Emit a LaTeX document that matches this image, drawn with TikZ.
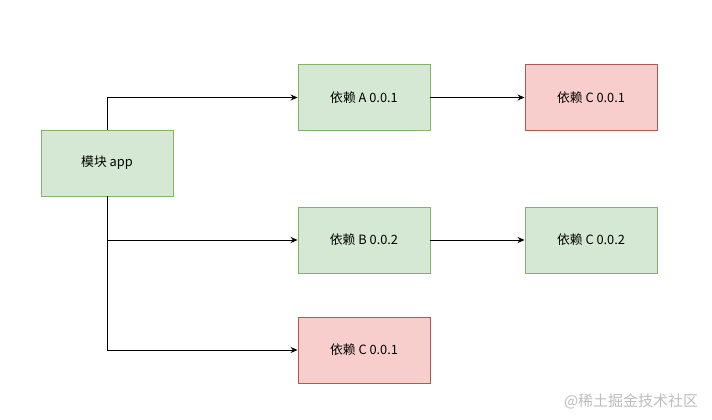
\documentclass[tikz,border=0pt]{standalone}
\usepackage{fontspec}
\setmainfont{Noto Sans CJK SC}
\usetikzlibrary{arrows.meta, positioning}
\definecolor{okfill}{HTML}{D5E8D4}
\definecolor{okline}{HTML}{82B366}
\definecolor{badfill}{HTML}{F8CECC}
\definecolor{badline}{HTML}{B85450}
\definecolor{markgray}{HTML}{BDBDBD}

\begin{document}
\begin{tikzpicture}[x=1pt, y=-1pt, >={Stealth[length=7pt, width=6pt]}, line width=0.9pt,
  depbox/.style={fill=#1fill, draw=#1line, line width=0.9pt, minimum width=132pt,
                 minimum height=66pt, inner sep=0pt, font=\fontsize{12.8}{15}\selectfont},
  link/.style={->, black}
]

% Background
\fill[white] (0,0) rectangle (712,420);
\useasboundingbox (0,0) rectangle (712,420);

% Module
\node[depbox=ok] (app) at (107,163) {模块 app};

% Direct dependencies
\node[depbox=ok] (dep-a) at (364,97.5) {依赖 A 0.0.1};
\node[depbox=ok] (dep-b) at (364,240) {依赖 B 0.0.2};
\node[depbox=bad] (dep-c) at (364,350) {依赖 C 0.0.1};

% Transitive dependencies
\node[depbox=bad] (dep-ac) at (591,97.5) {依赖 C 0.0.1};
\node[depbox=ok] (dep-bc) at (591,240) {依赖 C 0.0.2};

% Links
\draw[link] (app.north) |- (dep-a.west);
\draw[link] (app.south) |- (dep-b.west);
\draw[link] (app.south) |- (dep-c.west);
\draw[link] (dep-a.east) -- (dep-ac.west);
\draw[link] (dep-b.east) -- (dep-bc.west);

% Watermark
\node[font=\fontsize{15}{17}\selectfont, text=markgray, anchor=east] (mark) at (702,401) {@稀土掘金技术社区};

\end{tikzpicture}
\end{document}
